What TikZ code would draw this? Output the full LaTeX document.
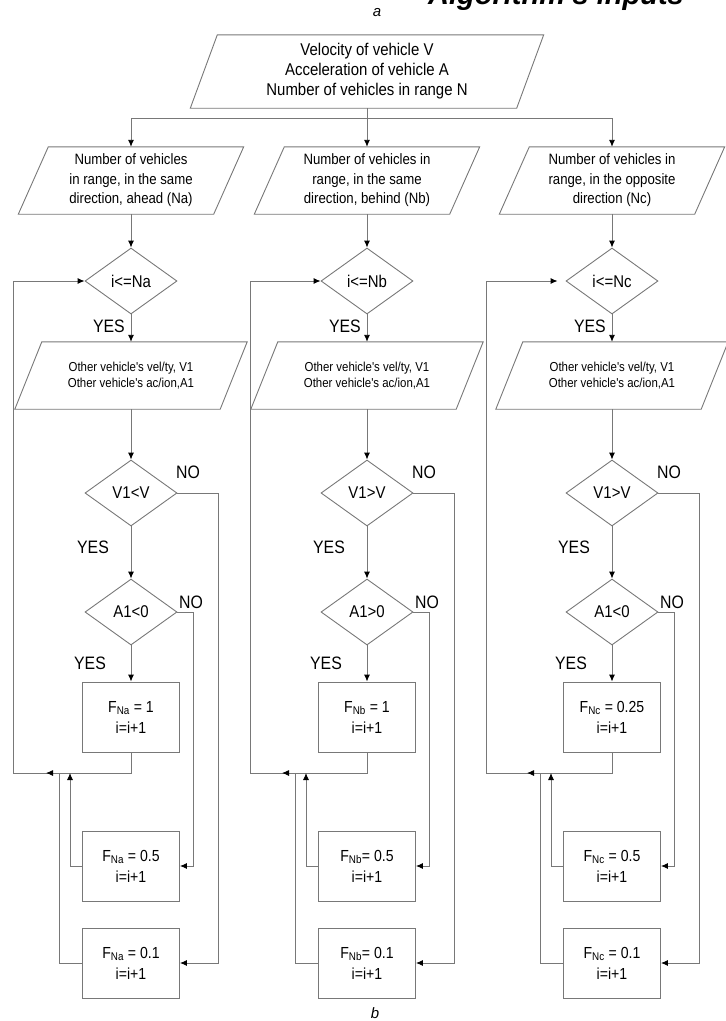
\documentclass[tikz,border=0pt]{standalone}
\usepackage{fontspec}
\setmainfont{Liberation Sans}
\newfontfamily\cond[FakeStretch=0.88]{Liberation Sans}
\usetikzlibrary{shapes.geometric,arrows.meta,calc}
\definecolor{ln}{RGB}{120,120,120}
\newcommand\drawpara[2]{\draw[conn] ([xshift=#2]#1.north west) -- ([xshift=#2]#1.north east) -- ([xshift=-#2]#1.south east) -- ([xshift=-#2]#1.south west) -- cycle;}
\begin{document}
\begin{tikzpicture}[x=1pt,y=-1pt,
  conn/.style={draw=ln,line width=0.9pt},
  arr/.style={conn,-{Latex[length=7pt,width=6pt,black]}},
  para/.style={rectangle,inner sep=0pt,align=center},
  dec/.style={diamond,draw=ln,line width=0.9pt,minimum width=92pt,minimum height=66pt,inner sep=0pt,font={\cond\fontsize{17}{20}\selectfont}},
  stepbox/.style={rectangle,draw=ln,line width=0.9pt,minimum width=97pt,minimum height=70pt,inner sep=0pt,align=center,font={\cond\fontsize{16}{21}\selectfont}},
  lbl/.style={font={\cond\fontsize{18}{20}\selectfont},inner sep=0pt}]
\useasboundingbox (0,0) rectangle (726,1021);
\node[anchor=base east,inner sep=0pt,font={\bfseries\itshape\fontsize{29}{30}\selectfont}] (title) at (684,4) {Algorithm's inputs};
\node[inner sep=0pt,font={\itshape\fontsize{15}{15}\selectfont}] (la) at (377,13) {a};
\node[inner sep=0pt,font={\itshape\fontsize{15}{15}\selectfont}] (lb) at (375,1013) {b};
\node[para,minimum width=326pt,minimum height=73pt,font={\cond\fontsize{17}{20}\selectfont}] (top) at (367,71.5) {Velocity of vehicle V\\Acceleration of vehicle A\\Number of vehicles in range N};
\drawpara{top}{13.5}
\coordinate (bus) at (367,118);
\draw[conn] (top.south) -- (bus);
\foreach \col/\x/\lx/\gp/\ptext/\dtext/\vtext/\atext/\fone/\ftwo/\fthree in {
  a/131/13/0/{Number of vehicles\\in range, in the same\\direction, ahead (Na)}/{i<=Na}/{V1<V}/{A1<0}/{F\textsubscript{Na} = 1}/{F\textsubscript{Na} = 0.5}/{F\textsubscript{Na} = 0.1},
  b/367/250/0/{Number of vehicles in\\range, in the same\\direction, behind (Nb)}/{i<=Nb}/{V1>V}/{A1>0}/{F\textsubscript{Nb} = 1}/{F\textsubscript{Nb}= 0.5}/{F\textsubscript{Nb}= 0.1},
  c/612/486/8/{Number of vehicles in\\range, in the opposite\\direction (Nc)}/{i<=Nc}/{V1>V}/{A1<0}/{F\textsubscript{Nc} = 0.25}/{F\textsubscript{Nc} = 0.5}/{F\textsubscript{Nc} = 0.1}}{
  \node[para,minimum width=195pt,minimum height=67pt,font={\cond\fontsize{15}{19.5}\selectfont}] (p\col) at (\x,180.5) {\ptext};
  \drawpara{p\col}{15}
  \draw[arr] (p\col.north |- bus) -- (p\col.north);
  \node[dec] (d\col) at (\x,281) {\dtext};
  \draw[arr] (p\col.south) -- (d\col.north);
  \node[lbl,anchor=east] (yd\col) at (\x-6,326) {YES};
  \node[para,minimum width=205pt,minimum height=67pt,font={\cond\fontsize{13}{16}\selectfont}] (q\col) at (\x,375.5) {Other vehicle's vel/ty, V1\\Other vehicle's ac/ion,A1};
  \drawpara{q\col}{13.5}
  \draw[arr] (d\col.south) -- (q\col.north);
  \node[dec] (v\col) at (\x,493) {\vtext};
  \draw[arr] (q\col.south) -- (v\col.north);
  \node[lbl] (nv\col) at (\x+57,472) {NO};
  \node[lbl] (yv\col) at (\x-38,547) {YES};
  \node[dec] (a\col) at (\x,612) {\atext};
  \draw[arr] (v\col.south) -- (a\col.north);
  \node[lbl] (na\col) at (\x+60,602) {NO};
  \node[lbl] (ya\col) at (\x-41,663) {YES};
  \node[stepbox] (f\col) at (\x,717) {\fone\\i=i+1};
  \draw[arr] (a\col.south) -- (f\col.north);
  \node[stepbox] (g\col) at (\x,866) {\ftwo\\i=i+1};
  \node[stepbox] (h\col) at (\x,963) {\fthree\\i=i+1};
  \coordinate (L\col) at (\lx,773);
  \coordinate (J\col) at (\x,773);
  \coordinate (M\col) at (\x-85,773);
  \draw[conn] (f\col.south) -- (J\col) -- (L\col) -- (L\col |- d\col.west);
  \draw[arr] (J\col) -- (M\col);
  \draw[arr,shorten >=\gp pt] (L\col |- d\col.west) -- (d\col.west);
  \draw[arr] (g\col.west) -- (\x-61,866) -- (\x-61,773);
  \draw[conn] (h\col.west) -- (\x-72,963) -- (\x-72,773);
  \draw[arr] (a\col.east) -- (\x+62,612) -- (\x+62,866) -- (g\col.east);
  \draw[arr] (v\col.east) -- (\x+87,493) -- (\x+87,963) -- (h\col.east);
}
\draw[conn] (pa.north |- bus) -- (pc.north |- bus);
\end{tikzpicture}
\end{document}
